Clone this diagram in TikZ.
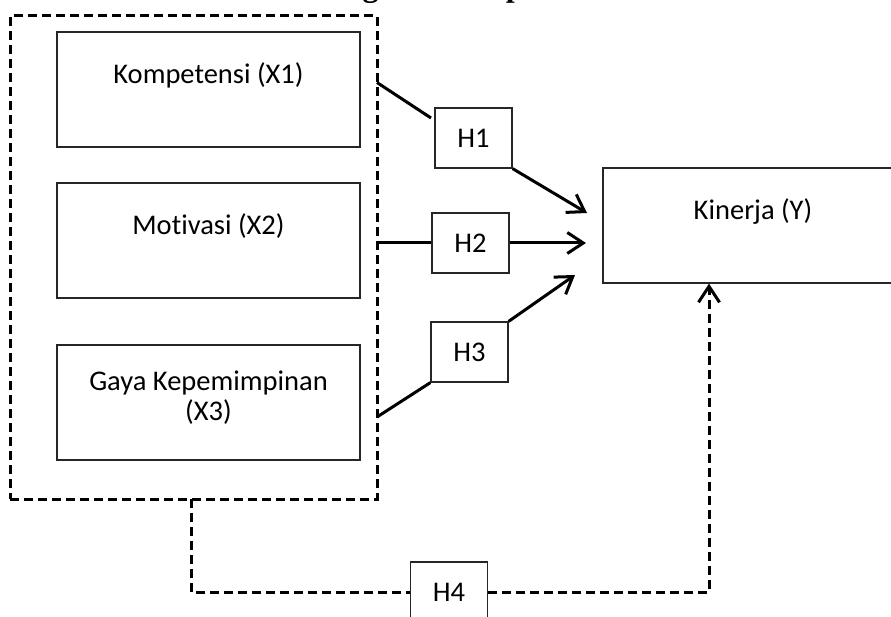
\documentclass[tikz,border=0pt]{standalone}
\usepackage{fontspec}
\setmainfont{Carlito}[Ligatures=NoCommon]
\newfontfamily\titlefont{Liberation Serif}
\usetikzlibrary{arrows.meta}

\begin{document}
\begin{tikzpicture}[x=1pt, y=-1pt, font=\fontsize{28.5}{34}\selectfont,
        box/.style={draw=black!85, line width=1.2pt, minimum width=303pt, minimum height=115pt},
        hbox/.style={draw=black!85, line width=1.2pt, minimum width=77pt, minimum height=60pt, inner sep=0pt},
        line/.style={line width=3pt},
        tip/.style={-{Straight Barb[length=16pt, width=21pt]}},
        dline/.style={line width=3pt, dash pattern=on 9pt off 5pt}]
        \useasboundingbox (0,0) rectangle (891,617);
        \node[anchor=base west, font=\titlefont\bfseries\fontsize{32}{36}\selectfont] (title) at (272,-3) {Kerangka Konseptual};
        % variabel X dan Y
        \node[draw, dline, minimum width=367pt, minimum height=483pt] (grp) at (193.5,257.5) {};
        \node[box, label={[anchor=center, yshift=-44pt]north:Kompetensi (X1)}] (x1) at (208.5,89.5) {};
        \node[box, label={[anchor=center, yshift=-44pt]north:Motivasi (X2)}] (x2) at (208.5,240.5) {};
        \node[box, label={[anchor=center, yshift=-53pt, align=center, font=\fontsize{28.5}{30}\selectfont]north:{Gaya Kepemimpinan\\(X3)}}] (x3) at (208.5,402.5) {};
        \node[box, minimum width=300pt, label={[anchor=center, yshift=-44pt]north:Kinerja (Y)}] (y) at (753,225.5) {};
        % hipotesis
        \node[hbox] (h1) at (473.5,138) {H1};
        \node[hbox] (h2) at (470.5,243) {H2};
        \node[hbox] (h3) at (469.5,352) {H3};
        \node[hbox] (h4) at (449,592) {H4};
        \coordinate (s1) at (377,82.5);
        \coordinate (e1) at (431,118);
        \coordinate (s2) at (377,243);
        \coordinate (s3) at (377,417);
        \coordinate (s4) at (191,499);
        \coordinate (t1) at (587,213);
        \coordinate (t2) at (586,243);
        \coordinate (t3) at (575,275);
        \draw[line] (s1) -- (e1);
        \draw[line, tip] (h1.south east) -- (t1);
        \draw[line] (s2) -- (h2.west);
        \draw[line, tip] (h2.east) -- (t2);
        \draw[line] (s3) -- (h3.south west);
        \draw[line, tip] (h3.north east) -- (t3);
        \draw[dline] (s4) |- (h4.west);
        \draw[dline, tip] (h4.east) -| ([xshift=-44pt]y.south);
\end{tikzpicture}
\end{document}
